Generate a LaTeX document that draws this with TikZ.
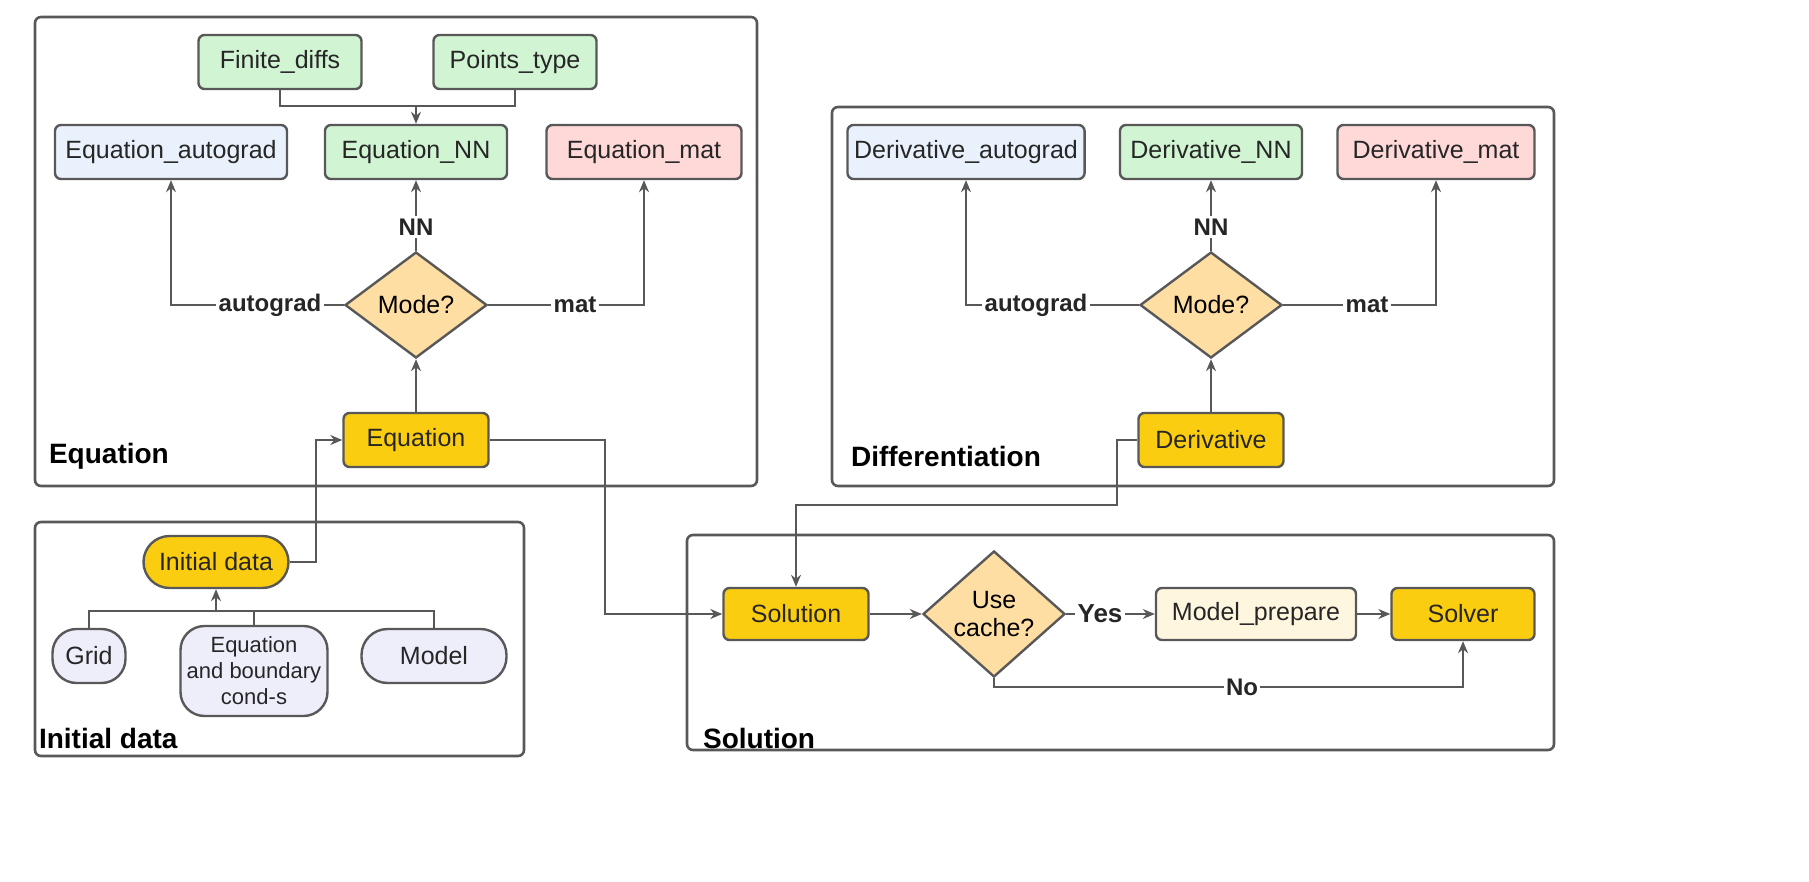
\documentclass[tikz,border=0pt]{standalone}
\usepackage{fontspec}
\setmainfont{Liberation Sans}
\usetikzlibrary{shapes.geometric,arrows.meta}
\definecolor{edge}{RGB}{88,88,88}
\definecolor{cgreen}{RGB}{209,244,211}
\definecolor{cblue}{RGB}{233,242,252}
\definecolor{cpink}{RGB}{255,216,216}
\definecolor{cgold}{RGB}{251,205,17}
\definecolor{cmode}{RGB}{255,222,163}
\definecolor{clav}{RGB}{238,238,251}
\definecolor{ccream}{RGB}{255,246,224}
\tikzset{
  box/.style={draw=edge, line width=1.2pt, rounded corners=3pt, minimum height=27pt, font=\fontsize{12.5}{14}\selectfont, text=black!85},
  mode/.style={draw=edge, line width=1.2pt, diamond, fill=cmode, minimum width=71pt, minimum height=53pt, inner sep=0pt, font=\fontsize{12.5}{14}\selectfont},
  frame/.style={draw=edge, line width=1.3pt, rounded corners=3pt},
  title/.style={font=\bfseries\fontsize{14}{16}\selectfont, anchor=west},
  lab/.style={font=\bfseries\fontsize{12}{14}\selectfont, text=black!85},
  link/.style={draw=edge, line width=0.8pt},
  arr/.style={link, -{Stealth[length=6pt,width=5pt]}}
}
\begin{document}
\begin{tikzpicture}[x=0.5pt,y=-0.5pt]
        \useasboundingbox (0,0) rectangle (1809,882);

        % Frames of the four parts
        \draw[frame] (35,17) rectangle (757,486);
        \draw[frame] (832,107) rectangle (1554,486);
        \draw[frame] (35,522) rectangle (524,756);
        \draw[frame] (687,535) rectangle (1554,750);
        \node[title] at (42,456) {Equation};
        \node[title] at (844,456) {Differentiation};
        \node[title] at (32,738) {Initial data};
        \node[title] at (696,738) {Solution};

        % Equation part
        \node[box, fill=cgreen, minimum width=81.5pt] (fdiffs) at (280,62) {Finite\_diffs};
        \node[box, fill=cgreen, minimum width=81.5pt] (ptype) at (515,62) {Points\_type};
        \node[box, fill=cblue, minimum width=116pt] (eqauto) at (171,152) {Equation\_autograd};
        \node[box, fill=cgreen, minimum width=91pt] (eqnn) at (416,152) {Equation\_NN};
        \node[box, fill=cpink, minimum width=97.5pt] (eqmat) at (644,152) {Equation\_mat};
        \node[mode] (eqmode) at (416,305) {Mode?};
        \node[box, fill=cgold, minimum width=72.5pt] (equation) at (416,440) {Equation};
        \node[lab, fill=white, inner sep=1pt] (eqnnlab) at (416,227) {NN};
        \node[lab, fill=white, inner sep=1pt] (eqautolab) at (270,305) {autograd};
        \node[lab, fill=white, inner sep=1pt] (eqmatlab) at (575,305) {mat};
        \coordinate (eqjoin) at (416,106);

        % Differentiation part
        \node[box, fill=cblue, minimum width=117pt] (dauto) at (966,152) {Derivative\_autograd};
        \node[box, fill=cgreen, minimum width=91pt] (dnn) at (1211,152) {Derivative\_NN};
        \node[box, fill=cpink, minimum width=98.5pt] (dmat) at (1436,152) {Derivative\_mat};
        \node[mode] (dmode) at (1211,305) {Mode?};
        \node[box, fill=cgold, minimum width=72.5pt] (deriv) at (1211,440) {Derivative};
        \node[lab, fill=white, inner sep=1pt] (dnnlab) at (1211,227) {NN};
        \node[lab, fill=white, inner sep=1pt] (dautolab) at (1036,305) {autograd};
        \node[lab, fill=white, inner sep=1pt] (dmatlab) at (1367,305) {mat};

        % Initial data part
        \node[box, fill=cgold, rounded corners=13pt, minimum width=72.5pt, minimum height=26pt] (init) at (216,562) {Initial data};
        \node[box, fill=clav, rounded corners=12pt, minimum width=36.5pt] (grid) at (89,656) {Grid};
        \node[box, fill=clav, rounded corners=12pt, minimum width=73.5pt, minimum height=45pt, align=center, inner sep=1pt, font=\fontsize{11}{13}\selectfont] (eqbc) at (254,671) {Equation\\and boundary\\cond-s};
        \node[box, fill=clav, rounded corners=13pt, minimum width=72.5pt] (model) at (434,656) {Model};
        \coordinate (initjoin) at (216,611);

        % Solution part
        \node[box, fill=cgold, minimum width=72.5pt, minimum height=26pt] (sol) at (796,614) {Solution};
        \node[mode, align=center] (cache) at (994,614) {Use\\cache?};
        \node[box, fill=ccream, minimum width=100pt, minimum height=26pt] (prep) at (1256,614) {Model\_prepare};
        \node[box, fill=cgold, minimum width=71.5pt, minimum height=26pt] (solver) at (1463,614) {Solver};
        \node[lab, font=\bfseries\fontsize{13}{15}\selectfont, inner sep=1pt] (yes) at (1100,614) {Yes};
        \node[lab, fill=white, inner sep=1pt] (no) at (1242,687) {No};

        % Connectors of the Equation part
        \draw[link] (fdiffs.south) |- (eqjoin) -| (ptype.south);
        \draw[arr] (eqjoin) -- (eqnn.north);
        \draw[link] (eqmode.north) -- (eqnnlab);
        \draw[arr] (eqnnlab) -- (eqnn.south);
        \draw[link] (eqmode.west) -- (eqautolab);
        \draw[arr] (eqautolab) -| (eqauto.south);
        \draw[link] (eqmode.east) -- (eqmatlab);
        \draw[arr] (eqmatlab) -| (eqmat.south);
        \draw[arr] (equation.north) -- (eqmode.south);

        % Connectors of the Differentiation part
        \draw[link] (dmode.north) -- (dnnlab);
        \draw[arr] (dnnlab) -- (dnn.south);
        \draw[link] (dmode.west) -- (dautolab);
        \draw[arr] (dautolab) -| (dauto.south);
        \draw[link] (dmode.east) -- (dmatlab);
        \draw[arr] (dmatlab) -| (dmat.south);
        \draw[arr] (deriv.north) -- (dmode.south);

        % Connectors of the Initial data part
        \draw[link] (grid.north) |- (initjoin) -| (model.north);
        \draw[link] (eqbc.north) |- (initjoin);
        \draw[arr] (initjoin) -- (init.south);
        \draw[arr] (init.east) -- (316,562) |- (equation.west);

        % Connectors between the parts and in the Solution part
        \draw[arr] (equation.east) -- (605,440) |- (sol.west);
        \draw[arr] (deriv.west) -- (1117,440) -- (1117,505) -| (sol.north);
        \draw[arr] (sol.east) -- (cache.west);
        \draw[link] (cache.east) -- (yes);
        \draw[arr] (yes) -- (prep.west);
        \draw[arr] (prep.east) -- (solver.west);
        \draw[link] (cache.south) |- (no);
        \draw[arr] (no) -| (solver.south);
\end{tikzpicture}
\end{document}
